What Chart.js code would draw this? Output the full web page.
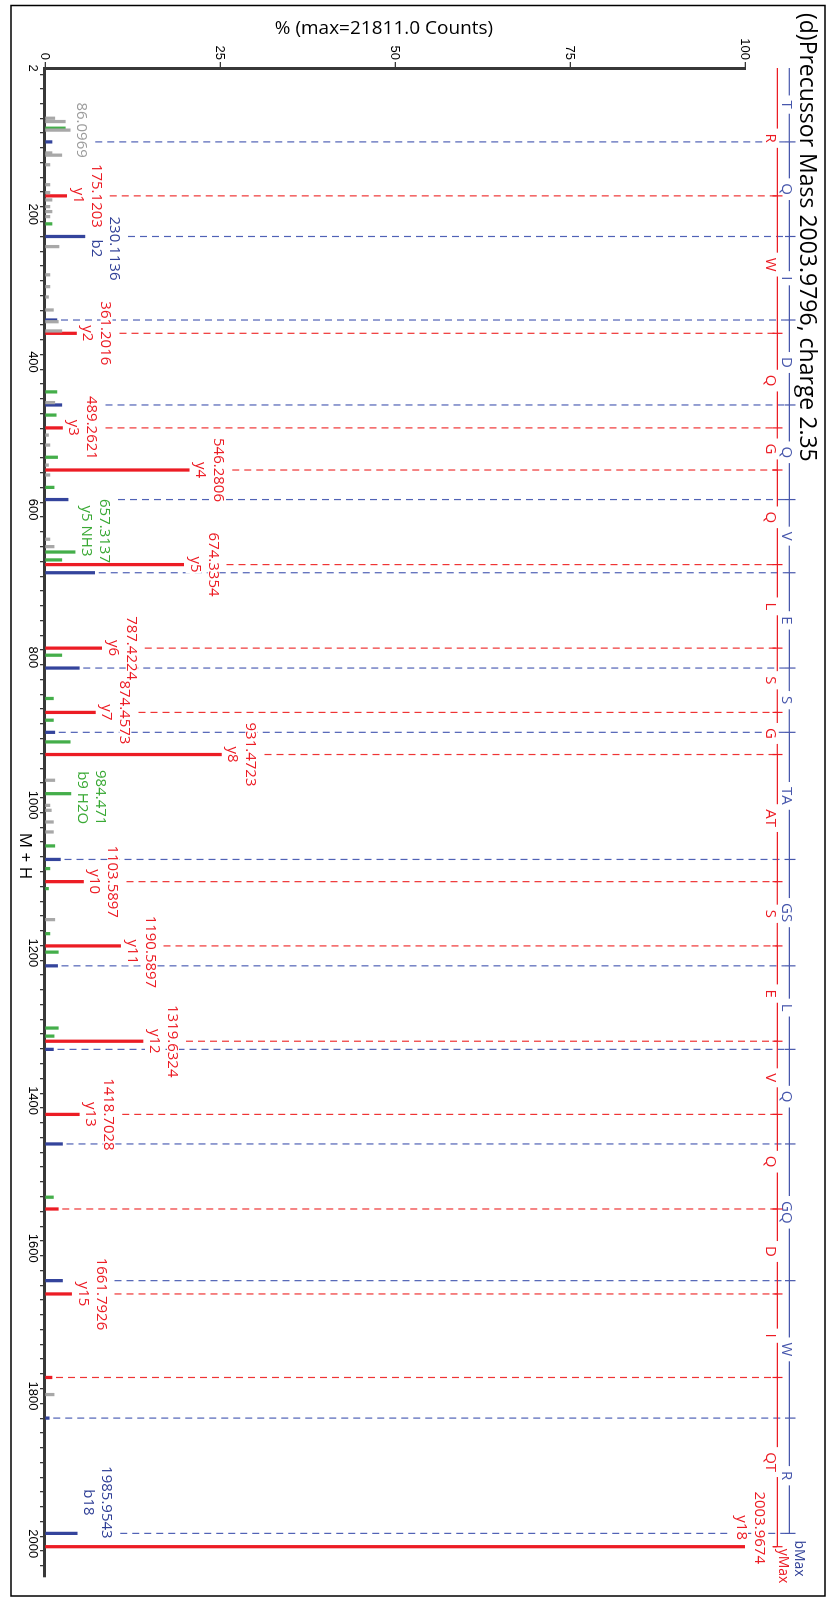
<!DOCTYPE html>
<html>
<head>
<meta charset="utf-8">
<script src="https://cdn.jsdelivr.net/npm/chart.js@4.4.1/dist/chart.umd.min.js"></script>
<style>
  html, body { margin: 0; padding: 0; background: #fff; overflow: hidden; }
  /* the spectrum is laid out landscape and turned a quarter clockwise */
  #wrap { position: absolute; left: 0; top: 0; width: 1598px; height: 827px;
          transform-origin: 0 0; transform: translate(827px, 0) rotate(90deg); }
  canvas { display: block; }
</style>
</head>
<body>
<div id="wrap"><canvas id="spec" width="1598" height="827"></canvas></div>
<script>
// ---------------------------------------------------------------- texts
const titleText  = '(d)Precussor Mass 2003.9796, charge 2.35';
const yTitleText = '% (max=21811.0 Counts)';
const xTitleText = 'M + H';

// ---------------------------------------------------------------- axes
const mzTickLabels = [2, 200, 400, 600, 800, 1000, 1200, 1400, 1600, 1800, 2000];
const mzMinorStep  = 20;
const pctTicks     = [0, 25, 50, 75, 100];

// ---------------------------------------------------------------- peaks (m/z, relative intensity %)
// unassigned
const grayMz  = [70.0, 74.5, 86.0969, 117.0, 120.0, 133.0, 160.0, 170.7, 180.6, 189.7, 196.4, 203.2,
                 243.8, 282.0, 298.0, 312.0, 329.6, 345.5, 358.0, 455.0, 499.0, 512.5, 539.6, 553.0,
                 640.0, 650.0, 966.3, 1000.3, 1007.0, 1022.8, 1036.3, 1155.0, 1798.0];
const grayInt = [1.4, 2.9, 3.6, 1.0, 2.4, 0.7, 0.7, 0.7, 1.0, 0.7, 1.0, 0.7,
                 2.0, 0.7, 0.7, 0.5, 1.2, 1.9, 2.4, 1.4, 0.5, 0.7, 0.5, 0.7,
                 0.7, 1.3, 1.4, 0.7, 0.9, 1.2, 1.2, 1.4, 1.3];
// neutral losses
const greenMz  = [83.5, 213.0, 440.5, 471.9, 529.0, 569.8, 657.3137, 668.0, 797.0, 855.6, 885.0,
                  914.4, 984.471, 1055.2, 1085.9, 1113.0, 1174.0, 1199.0, 1301.8, 1312.7, 1530.8];
const greenInt = [2.9, 1.0, 1.7, 1.6, 1.8, 1.3, 4.3, 2.4, 2.4, 1.2, 1.2,
                  3.6, 3.7, 1.4, 0.7, 0.5, 0.7, 1.9, 1.9, 1.3, 1.2];
// y ions
const yMz  = [175.1203, 361.2016, 489.2621, 546.2806, 674.3354, 787.4224, 874.4573, 931.4723,
              1103.5897, 1190.5897, 1319.6324, 1418.7028, 1546.7610, 1661.7926, 1774.8720, 2003.9674];
const yInt = [3.1, 4.5, 2.5, 20.6, 19.8, 8.1, 7.2, 25.2, 5.5, 10.8, 14.0, 4.9, 1.9, 3.8, 1.0, 100];
// b ions
const bMz  = [102.0550, 230.1136, 343.1976, 458.2245, 586.2831, 685.3515, 814.3941, 901.4262,
              1073.5110, 1217.5644, 1330.6485, 1458.7071, 1643.7871, 1829.8664, 1985.9543];
const bInt = [1.0, 5.7, 1.7, 2.4, 3.3, 7.1, 4.9, 1.4, 2.2, 1.8, 1.2, 2.5, 2.5, 0.6, 4.6];

// ---------------------------------------------------------------- annotated peaks
const labelMz  = [86.0969, 175.1203, 230.1136, 361.2016, 489.2621, 546.2806, 657.3137, 674.3354,
                  787.4224, 874.4573, 931.4723, 984.471, 1103.5897, 1190.5897, 1319.6324, 1418.7028,
                  1661.7926, 1985.9543, 2003.9674];
const labelIon = ['', 'y1', 'b2', 'y2', 'y3', 'y4', 'y5 NH3', 'y5',
                  'y6', 'y7', 'y8', 'b9 H2O', 'y10', 'y11', 'y12', 'y13',
                  'y15', 'b18', 'y18'];

// ---------------------------------------------------------------- sequence ladders (TQIDQVESTAGSLQGQWR)
const bLadderMz  = [1.0073, 102.0550, 230.1136, 343.1976, 458.2245, 586.2831, 685.3515, 814.3941,
                    901.4262, 1073.5110, 1217.5644, 1330.6485, 1458.7071, 1643.7871, 1829.8664, 1985.9543];
const bLadderRes = ['T', 'Q', 'I', 'D', 'Q', 'V', 'E', 'S', 'TA', 'GS', 'L', 'Q', 'GQ', 'W', 'R'];
const yLadderMz  = [19.0178, 175.1203, 361.2016, 489.2621, 546.2806, 674.3354, 787.4224, 874.4573,
                    931.4723, 1103.5897, 1190.5897, 1319.6324, 1418.7028, 1546.7610, 1661.7926,
                    1774.8720, 2003.9796];
const yLadderRes = ['R', 'W', 'Q', 'G', 'Q', 'L', 'S', 'G', 'AT', 'S', 'E', 'V', 'Q', 'D', 'I', 'QT'];

// ---------------------------------------------------------------- styling
const COL = {
  gray: '#a8a8a8', grayText: '#9c9c9c',
  green: '#44ae4a', greenText: '#3aa935',
  red: '#ec1c24', redText: '#ec1c24',
  blue: '#34449c', blueText: '#2f3f96',
  ladderRed: '#ec1c24', ladderBlue: '#4757ac',
  dashRed: '#ef3535', dashBlue: '#5062b6',
  axis: '#383838'
};
const LABEL_FONT  = '15px "Open Sans"';
const LADDER_FONT = '15px "Open Sans"';
const TICK_FONT   = { family: '"Liberation Sans", Arial, sans-serif', size: 13 };
// small sideways/vertical shifts that keep crowded labels apart
const labelNudge = { 'b2': [12, 0], 'y5 NH3': [-21, 0], 'b9 H2O': [4, 0], 'y11': [6, 0],
                     'b18': [-31, 0], 'y18': [-19, 15] };

const series = [
  { mz: grayMz,  val: grayInt,  color: COL.gray,  text: COL.grayText },
  { mz: greenMz, val: greenInt, color: COL.green, text: COL.greenText },
  { mz: bMz,     val: bInt,     color: COL.blue,  text: COL.blueText },
  { mz: yMz,     val: yInt,     color: COL.red,   text: COL.redText }
];

function nearestIndex(arr, m, tol) {
  let best = -1, d = tol;
  arr.forEach((v, i) => { const e = Math.abs(v - m); if (e <= d) { d = e; best = i; } });
  return best;
}
function seriesFor(m) {
  for (const s of series) { const k = s.mz.indexOf(m); if (k >= 0) return { s, v: s.val[k] }; }
  return null;
}
// push a connector start above any label sitting just over it
function clearOfLabels(boxes, px, start) {
  let s = start, moved = true;
  while (moved) {
    moved = false;
    for (const b of boxes) {
      const l = b.cx - b.w / 2 - 1, r = b.cx + b.w / 2 + 1;
      const top = b.bl - b.asc, bot = b.bl + b.desc;
      if (px >= l && px <= r && top < s && bot >= s - 36) { s = top - 8; moved = true; }
    }
  }
  return s;
}

const annotations = {
  id: 'annotations',
  beforeDatasetsDraw(chart) {
    const { ctx, scales: { x, y } } = chart;
    ctx.save();
    ctx.font = LABEL_FONT;
    const boxes = [];
    labelMz.forEach((m, i) => {
      const hit = seriesFor(m);
      const top = y.getPixelForValue(hit.v);
      const ion = labelIon[i];
      const [dx, dy] = labelNudge[ion] || [0, 0];
      const cx = x.getPixelForValue(m) + dx;
      const lines = ion ? [ion, String(m)] : [String(m)];
      lines.forEach((t, k) => {
        const mt = ctx.measureText(t);
        boxes.push({ t, cx, bl: top - 7 + dy - k * 18, w: mt.width,
                     asc: mt.actualBoundingBoxAscent, desc: mt.actualBoundingBoxDescent,
                     color: hit.s.text });
      });
    });
    chart.$labelBoxes = boxes;

    // dashed connectors from matched fragments up to the ladders
    const runs = [
      { mz: bLadderMz.slice(1), pm: bMz, pv: bInt, color: COL.dashBlue, end: 42 },
      { mz: yLadderMz.slice(1), pm: yMz, pv: yInt, color: COL.dashRed,  end: 50 }
    ];
    ctx.lineWidth = 1.2;
    ctx.setLineDash([7, 5]);
    runs.forEach(r => r.mz.forEach(m => {
      const px = x.getPixelForValue(m);
      const k = nearestIndex(r.pm, m, 0.5);
      let s = y.getPixelForValue(k >= 0 ? r.pv[k] : 0) - 4;
      s = clearOfLabels(boxes, px, s);
      ctx.strokeStyle = r.color;
      ctx.beginPath(); ctx.moveTo(px, s); ctx.lineTo(px, r.end); ctx.stroke();
    }));
    ctx.setLineDash([]);
    ctx.fillStyle = '#fff';
    boxes.forEach(b => ctx.fillRect(b.cx - b.w / 2 - 1, b.bl - b.asc - 1, b.w + 2, b.asc + b.desc + 2));
    ctx.restore();
  },
  afterDatasetsDraw(chart) {
    const { ctx } = chart;
    ctx.save();
    ctx.font = LABEL_FONT;
    ctx.textAlign = 'center';
    ctx.textBaseline = 'alphabetic';
    chart.$labelBoxes.forEach(b => { ctx.fillStyle = b.color; ctx.fillText(b.t, b.cx, b.bl); });
    ctx.restore();
  },
  afterDraw(chart) {
    const { ctx, scales: { x } } = chart;
    ctx.save();

    // sequence ladders
    const ladder = (mzs, res, lineY, tickTop, tickBot, textBase, color) => {
      ctx.strokeStyle = color; ctx.fillStyle = color; ctx.lineWidth = 1.2;
      ctx.font = LADDER_FONT; ctx.textAlign = 'center'; ctx.textBaseline = 'alphabetic';
      const seg = (a, b) => { if (b > a) { ctx.beginPath(); ctx.moveTo(a, lineY); ctx.lineTo(b, lineY); ctx.stroke(); } };
      const p0 = x.getPixelForValue(x.min);
      for (let i = 0; i < res.length; i++) {
        const a = x.getPixelForValue(mzs[i]), b = x.getPixelForValue(mzs[i + 1]);
        const mid = (a + b) / 2, mt = ctx.measureText(res[i]), w = mt.width;
        seg(i === 0 ? p0 : a, mid - w / 2 - 5);
        ctx.save(); ctx.fillStyle = '#fff';
        ctx.fillRect(mid - w / 2 - 1, textBase - mt.actualBoundingBoxAscent - 1, w + 2, mt.actualBoundingBoxAscent + mt.actualBoundingBoxDescent + 2);
        ctx.restore();
        ctx.fillText(res[i], mid, textBase);
        seg(mid + w / 2 + 5, b);
        ctx.beginPath(); ctx.moveTo(b, tickTop); ctx.lineTo(b, tickBot); ctx.stroke();
      }
      return x.getPixelForValue(mzs[mzs.length - 1]);
    };
    const bEnd = ladder(bLadderMz, bLadderRes, 37.7, 31.5, 42, 45, COL.ladderBlue);
    const yEnd = ladder(yLadderMz, yLadderRes, 49.7, 44.5, 54.5, 61, COL.ladderRed);
    ctx.textAlign = 'left';
    ctx.font = '14px "Open Sans"';
    ctx.fillStyle = COL.blueText; ctx.fillText('bMax', bEnd + 7, 32);
    ctx.fillStyle = COL.redText;  ctx.fillText('yMax', yEnd + 2, 47.5);

    // title
    ctx.fillStyle = '#000';
    ctx.font = '23px "Open Sans"';
    ctx.textAlign = 'left';
    ctx.fillText(titleText, 13, 27);

    // axis titles
    ctx.font = '17px "Open Sans"';
    ctx.textAlign = 'center';
    ctx.fillText(xTitleText, 856, 807);
    ctx.save();
    ctx.translate(34, 443);
    ctx.rotate(-Math.PI / 2);
    ctx.font = '19px "Open Sans"';
    ctx.fillText(yTitleText, 0, 0);
    ctx.restore();

    // frame
    ctx.strokeStyle = '#000';
    ctx.lineWidth = 1.5;
    ctx.strokeRect(5.5, 2, 1590.5, 814);
    ctx.restore();
  }
};

const datasets = series.map(s => ({
  data: s.mz.map((m, i) => ({ x: m, y: s.val[i] })),
  backgroundColor: s.color,
  borderWidth: 0,
  barThickness: 2.6,
  grouped: false
}));

new Chart(document.getElementById('spec'), {
  type: 'bar',
  data: { datasets },
  options: {
    responsive: false,
    animation: false,
    devicePixelRatio: 1,
    layout: { padding: { top: 82, right: 21, left: 0, bottom: 0 } },
    plugins: { legend: { display: false }, tooltip: { enabled: false }, title: { display: false } },
    scales: {
      x: {
        type: 'linear',
        min: 2,
        max: 2045,
        offset: false,
        afterFit: s => { s.height = 45; },
        afterBuildTicks: s => {
          const t = [];
          for (let v = 0; v <= s.max; v += mzMinorStep) if (v >= s.min) t.push(v);
          mzTickLabels.forEach(v => { if (!t.includes(v)) t.push(v); });
          s.ticks = t.sort((a, b) => a - b).map(v => ({ value: v }));
        },
        ticks: {
          autoSkip: false, maxRotation: 0, minRotation: 0, padding: 0,
          color: '#000', font: TICK_FONT,
          callback: v => mzTickLabels.includes(v) ? String(v) : ''
        },
        grid: { drawOnChartArea: false, drawTicks: true, tickLength: 5, color: COL.axis, lineWidth: 1.3 },
        border: { display: true, color: COL.axis, width: 3 }
      },
      y: {
        min: 0,
        max: 100,
        afterFit: s => { s.width = 68; },
        afterBuildTicks: s => { s.ticks = pctTicks.map(v => ({ value: v })); },
        ticks: { padding: 2, color: '#000', font: TICK_FONT },
        grid: { drawOnChartArea: false, drawTicks: true, tickLength: 6, color: COL.axis, lineWidth: 1.3 },
        border: { display: true, color: COL.axis, width: 3 }
      }
    }
  },
  plugins: [annotations]
});
</script>
</body>
</html>
